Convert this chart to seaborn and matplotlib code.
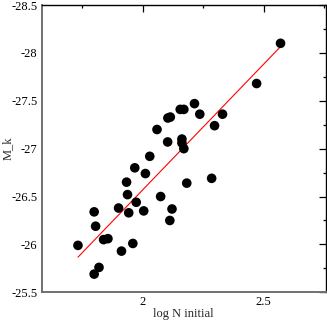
import matplotlib

matplotlib.use("Agg")
import matplotlib.pyplot as plt
import numpy as np
import pandas as pd
import seaborn as sns
from matplotlib.ticker import MultipleLocator, FormatStrFormatter

log_n = [1.732, 1.799, 1.805, 1.799, 1.819, 1.838, 1.856, 1.900, 1.912, 1.933,
         1.937, 1.942, 1.959, 1.967, 1.973, 2.004, 2.011, 2.029, 2.059, 2.074,
         2.103, 2.104, 2.114, 2.112, 2.121, 2.155, 2.170, 2.162, 2.162, 2.170,
         2.182, 2.214, 2.236, 2.285, 2.297, 2.330, 2.471, 2.570]
m_k = [-25.99, -26.34, -26.19, -25.69, -25.76, -26.05, -26.06, -26.38, -25.93, -26.65,
       -26.52, -26.33, -26.01, -26.80, -26.44, -26.35, -26.74, -26.92, -27.20, -26.50,
       -27.07, -27.32, -27.33, -26.25, -26.37, -27.41, -27.41, -27.10, -27.06, -27.00,
       -26.64, -27.47, -27.36, -26.69, -27.24, -27.36, -27.68, -28.10]

df = pd.DataFrame({"log N initial": log_n, "M_k": m_k})

sns.set_theme(style="white")
plt.rcParams["font.family"] = ["Liberation Serif", "DejaVu Serif"]
plt.rcParams["axes.unicode_minus"] = False

fig = plt.figure(figsize=(3.27, 3.20), dpi=100)
ax = fig.add_axes([41.7 / 327, 1 - 292.3 / 320, (325.5 - 41.7) / 327, (292.3 - 5) / 320])

sns.scatterplot(data=df, x="log N initial", y="M_k", ax=ax, color="black",
                s=48, edgecolor="none", legend=False, zorder=3)

# least-squares line over the data range
slope, icept = np.polyfit(df["log N initial"], df["M_k"], 1)
xs = np.array([df["log N initial"].min(), df["log N initial"].max()])
ax.plot(xs, slope * xs + icept, color="red", lw=0.8, zorder=2)

ax.set_xlim(1.582, 2.756)
ax.set_ylim(-25.5, -28.5)
ax.xaxis.set_major_locator(MultipleLocator(0.5))
ax.xaxis.set_minor_locator(MultipleLocator(0.25))
ax.yaxis.set_major_locator(MultipleLocator(0.5))
ax.yaxis.set_minor_locator(MultipleLocator(0.25))
ax.xaxis.set_major_formatter(FormatStrFormatter("%g"))
ax.yaxis.set_major_formatter(FormatStrFormatter("%g"))
ax.tick_params(which="both", direction="in", top=True, right=True,
               labelsize=9, colors="black", pad=3)
ax.tick_params(which="major", length=5, width=0.9)
ax.tick_params(which="minor", length=2.3, width=0.9)

for side in ("left", "bottom"):
    ax.spines[side].set_color("#707070")
    ax.spines[side].set_linewidth(1.4)
for side in ("top", "right"):
    ax.spines[side].set_color("black")
    ax.spines[side].set_linewidth(1.0)

ax.set_xlabel("log N initial", fontsize=9, labelpad=0)
ax.set_ylabel("M_k", fontsize=9)
ax.yaxis.set_label_coords(-0.098, 0.5)

fig.savefig("out.png", dpi=100)
